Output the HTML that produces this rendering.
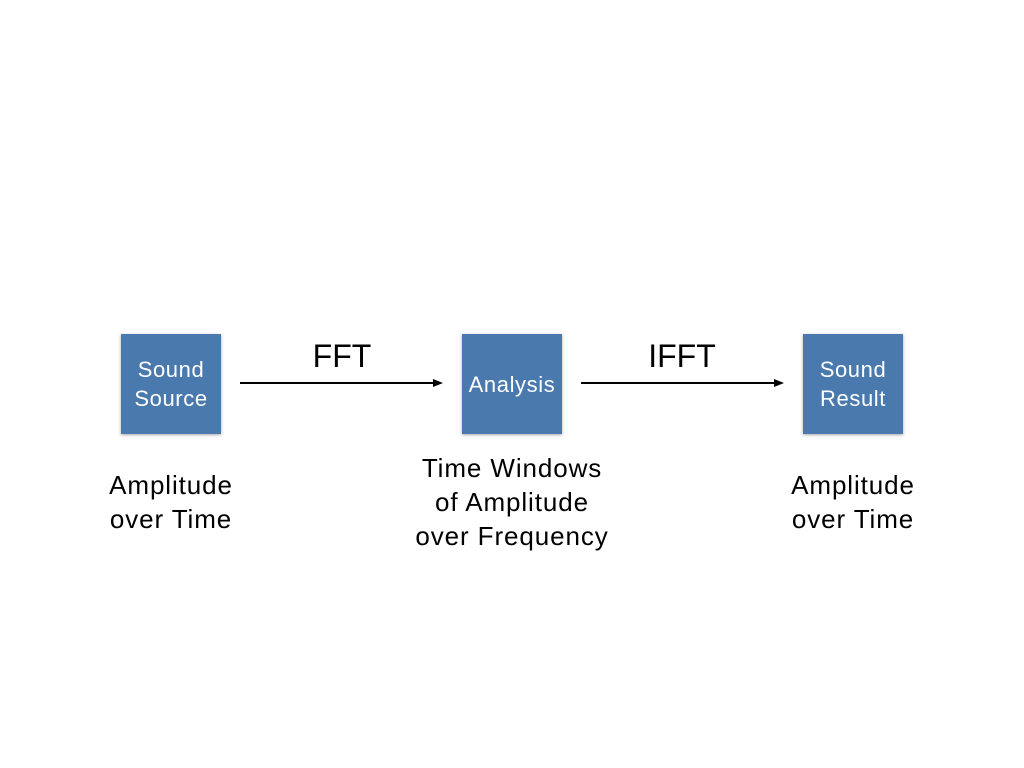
<!DOCTYPE html>
<html><head><meta charset="utf-8"><style>
body{margin:0;width:1024px;height:768px;background:#fff;position:relative;overflow:hidden;font-family:"Liberation Sans",sans-serif}
.box{position:absolute;top:334px;width:100px;height:100px;background:#4a79ad;box-shadow:0 1px 3px rgba(0,0,0,.35);color:#fff;font-size:22px;letter-spacing:0.6px;line-height:29px;display:flex;align-items:center;justify-content:center;text-align:center}
.lbl{position:absolute;font-size:26px;letter-spacing:0.9px;line-height:34px;text-align:center;color:#000;width:260px}
.op{position:absolute;font-size:32px;top:338px;width:120px;text-align:center}
svg{position:absolute;left:0;top:0}
</style></head><body>
<div class="box" style="left:121px">Sound<br>Source</div>
<div class="box" style="left:462px">Analysis</div>
<div class="box" style="left:803px">Sound<br>Result</div>
<div class="op" style="left:282px">FFT</div>
<div class="op" style="left:622px">IFFT</div>
<svg width="1024" height="768">
<line x1="240" y1="383" x2="436" y2="383" stroke="#000" stroke-width="2"/>
<polygon points="433,379 443,383 433,387" fill="#000"/>
<line x1="581" y1="383" x2="777" y2="383" stroke="#000" stroke-width="2"/>
<polygon points="774,379 784,383 774,387" fill="#000"/>
</svg>
<div class="lbl" style="left:41px;top:468px">Amplitude<br>over Time</div>
<div class="lbl" style="left:382px;top:451px">Time Windows<br>of Amplitude<br>over Frequency</div>
<div class="lbl" style="left:723px;top:468px">Amplitude<br>over Time</div>
</body></html>
